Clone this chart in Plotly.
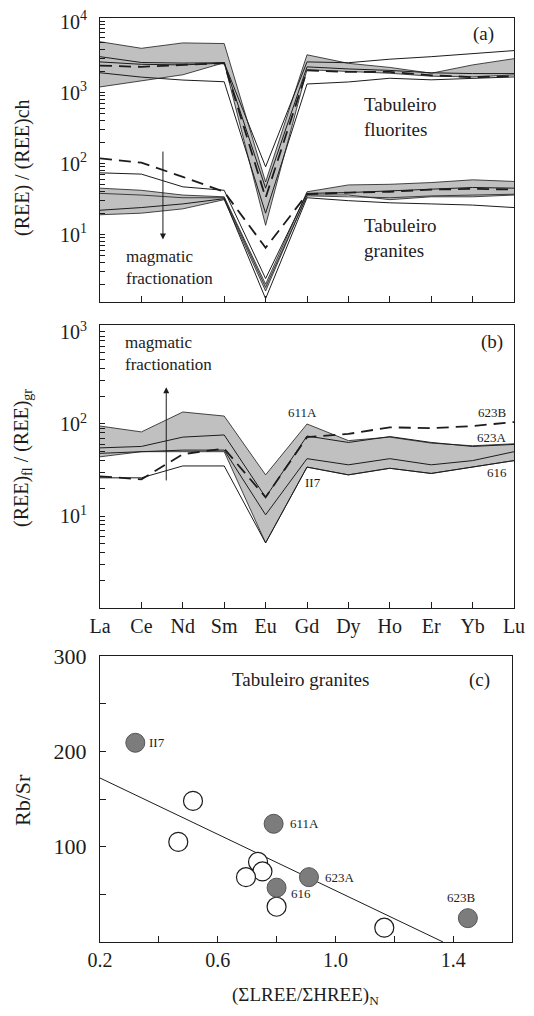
import math
import plotly.graph_objects as go

# ---------------- data ----------------
ELEMENTS = ["La", "Ce", "Nd", "Sm", "Eu", "Gd", "Dy", "Ho", "Er", "Yb", "Lu"]

# panel (a): chondrite-normalised REE, Tabuleiro fluorites
FL_BAND_HI = [5200, 4200, 5000, 4900, 55, 3400, 2580, 2260, 1870, 2450, 3000]
FL_BAND_LO = [1200, 1450, 1780, 2630, 13.5, 2100, 1960, 1870, 1700, 1660, 1770]
FL_SOLID_1 = [3200, 2650, 2600, 2630, 90, 2700, 2630, 2950, 3200, 3550, 3900]
FL_SOLID_2 = [1900, 1650, 1500, 1420, 20, 1320, 1410, 1590, 1510, 1600, 1660]
FL_SOLID_3 = [2700, 2500, 2450, 2600, 45, 2300, 2150, 2050, 1900, 1850, 1850]
FL_DASHED = [2400, 2300, 2450, 2600, 33, 2050, 1950, 1950, 1750, 1650, 1700]

# panel (a): Tabuleiro granites
GR_BAND_HI = [45, 42, 36, 34, 2.0, 40, 50, 51, 54, 59, 56]
GR_BAND_LO = [19, 20, 23, 31, 1.6, 36, 36, 31, 34, 34, 36]
GR_SOLID_1 = [74, 71, 47, 42, 2.4, 38, 39, 41, 44, 46, 45]
GR_SOLID_2 = [22, 24, 27, 32, 1.25, 33, 30, 28, 27, 26, 24]
GR_SOLID_3 = [38, 36, 33, 33, 1.8, 35, 34, 33, 35, 36, 37]
GR_DASHED = [118, 103, 65, 40, 6.5, 37, 39, 40, 43, 44, 43]

# panel (b): fluorite / granite ratios
B_BAND_HI = [95, 82, 135, 122, 28, 100, 66, 72, 62, 58, 61]
B_BAND_LO = [44, 50, 50, 50, 5.1, 34, 28, 33, 29, 34, 40]
B_623A = [55, 57, 72, 76, 16, 74, 63, 73, 63, 57, 60]
B_II7 = [48, 50, 52, 52, 10.3, 42, 36, 42, 36, 40, 50]
B_616 = [26, 26, 35, 35, 5.1, 34, 28, 33, 29, 34, 40]
B_623B = [27, 25, 47, 54, 16, 72, 78, 92, 90, 95, 105]

# panel (c): Rb/Sr vs (sum LREE / sum HREE)N
FILLED_X = [0.32, 0.79, 0.91, 0.80, 1.45]
FILLED_Y = [209, 124, 68, 57, 25]
FILLED_LABELS = ["II7", "611A", "623A", "616", "623B"]
OPEN_X = [0.516, 0.466, 0.737, 0.752, 0.696, 0.80, 1.166]
OPEN_Y = [148, 105, 84, 74, 68, 37, 15]
FIT_X = [0.2, 1.366]
FIT_Y = [172, 0]

C_TICKS_X = [0.2, 0.4, 0.6, 0.8, 1.0, 1.2, 1.4]
C_TICKTEXT_X = ["0.2", " ", "0.6", " ", "1.0", " ", "1.4"]
C_TICKS_Y = [0, 50, 100, 150, 200, 250, 300]
C_TICKTEXT_Y = [" ", " ", "100", " ", "200", " ", "300"]

# ---------------- layout helpers ----------------
W, H = 534, 1016
SERIF = "Liberation Serif"
INK = "#1c1c1c"
BAND_FILL = "rgba(150,150,150,0.6)"
idx = list(range(len(ELEMENTS)))


def px(x):
    return x / W


def py(y):
    return 1 - y / H


def log_ticks(lo_dec, hi_dec):
    vals, txt = [], []
    for d in range(lo_dec, hi_dec + 1):
        for k in range(1, 10):
            v = k * 10 ** d
            vals.append(v)
            txt.append(f"10<sup>{d}</sup>" if (k == 1 and d >= 1) else " ")
    return vals, txt


fig = go.Figure()


def line(y, xa, ya, dash=None, width=1.0):
    fig.add_trace(go.Scatter(
        x=idx, y=y, mode="lines", xaxis=xa, yaxis=ya, showlegend=False,
        hoverinfo="skip",
        line=dict(color=INK, width=width, dash=dash)))


def band(lo, hi, xa, ya):
    fig.add_trace(go.Scatter(
        x=idx, y=lo, mode="lines", xaxis=xa, yaxis=ya, showlegend=False,
        hoverinfo="skip", line=dict(color=INK, width=0.8)))
    fig.add_trace(go.Scatter(
        x=idx, y=hi, mode="lines", xaxis=xa, yaxis=ya, showlegend=False,
        hoverinfo="skip", line=dict(color=INK, width=0.8),
        fill="tonexty", fillcolor=BAND_FILL))


DASH = "12px,7px"

# panel (a)
band(FL_BAND_LO, FL_BAND_HI, "x", "y")
line(FL_SOLID_1, "x", "y")
line(FL_SOLID_2, "x", "y")
line(FL_SOLID_3, "x", "y")
line(FL_DASHED, "x", "y", dash=DASH, width=1.8)
band(GR_BAND_LO, GR_BAND_HI, "x", "y")
line(GR_SOLID_1, "x", "y")
line(GR_SOLID_2, "x", "y")
line(GR_SOLID_3, "x", "y", width=0.8)
line(GR_DASHED, "x", "y", dash=DASH, width=1.8)

# panel (b)
band(B_BAND_LO, B_BAND_HI, "x2", "y2")
line(B_623A, "x2", "y2")
line(B_II7, "x2", "y2")
line(B_616, "x2", "y2")
line(B_623B, "x2", "y2", dash=DASH, width=1.8)

# panel (c)
fig.add_trace(go.Scatter(x=FIT_X, y=FIT_Y, mode="lines", xaxis="x3", yaxis="y3",
                         showlegend=False, hoverinfo="skip",
                         line=dict(color=INK, width=1)))
fig.add_trace(go.Scatter(x=OPEN_X, y=OPEN_Y, mode="markers", xaxis="x3", yaxis="y3",
                         showlegend=False, hoverinfo="skip",
                         marker=dict(size=19, color="white",
                                     line=dict(color=INK, width=1.2))))
fig.add_trace(go.Scatter(x=FILLED_X, y=FILLED_Y, mode="markers", xaxis="x3", yaxis="y3",
                         showlegend=False, hoverinfo="skip",
                         marker=dict(size=19, color="#7c7c7c",
                                     line=dict(color="#555555", width=1))))

# ---------------- axes ----------------
tv_a, tt_a = log_ticks(0, 4)
tv_b, tt_b = log_ticks(0, 3)

common_ax = dict(showline=True, linecolor=INK, linewidth=1, mirror=True,
                 ticks="inside", tickcolor=INK, showgrid=False, zeroline=False,
                 automargin=False,
                 tickfont=dict(family=SERIF, size=20, color=INK))

fig.update_layout(
    width=W, height=H, margin=dict(l=0, r=0, t=0, b=0, autoexpand=False),
    paper_bgcolor="white", plot_bgcolor="white",
    font=dict(family=SERIF, color=INK),
    xaxis=dict(common_ax, domain=[px(100), px(514)], anchor="y", range=[0, 10],
               tickmode="array", tickvals=idx, showticklabels=False, ticklen=6),
    yaxis=dict(common_ax, domain=[py(302), py(18)], anchor="x", type="log",
               range=[0.05, 4.05], tickmode="array", tickvals=tv_a, ticktext=tt_a,
               ticklen=5, ticklabelstandoff=8),
    xaxis2=dict(common_ax, domain=[px(100), px(514)], anchor="y2", range=[0, 10],
                tickmode="array", tickvals=idx, ticktext=ELEMENTS, ticklen=6,
                tickfont=dict(family=SERIF, size=20, color=INK)),
    yaxis2=dict(common_ax, domain=[py(608), py(325)], anchor="x2", type="log",
                range=[0, 3.076], tickmode="array", tickvals=tv_b, ticktext=tt_b,
                ticklen=5, ticklabelstandoff=8),
    xaxis3=dict(common_ax, domain=[px(100), px(512)], anchor="y3", range=[0.2, 1.6],
                tickmode="array", tickvals=C_TICKS_X, ticktext=C_TICKTEXT_X, ticklen=6,
                tickfont=dict(family=SERIF, size=20, color=INK)),
    yaxis3=dict(common_ax, domain=[py(942), py(656)], anchor="x3", range=[0, 300],
                tickmode="array", tickvals=C_TICKS_Y, ticktext=C_TICKTEXT_Y, ticklen=6,
                ticklabelstandoff=8,
                tickfont=dict(family=SERIF, size=22, color=INK)),
)

anns = []


def txt(text, x, y, xref, yref, size, xanchor="center", yanchor="middle", **kw):
    anns.append(dict(text=text, x=x, y=y, xref=xref, yref=yref, showarrow=False,
                     xanchor=xanchor, yanchor=yanchor, align="left",
                     font=dict(family=SERIF, size=size, color=INK), **kw))


# panel (a) texts
txt("(a)", px(483), py(34), "paper", "paper", 19)
txt("Tabuleiro<br>fluorites", 6.33, 2.65, "x", "y", 19, xanchor="left")
txt("Tabuleiro<br>granites", 6.33, 0.945, "x", "y", 19, xanchor="left")
txt("magmatic<br>fractionation", 0.58, 0.536, "x", "y", 17, xanchor="left")
anns.append(dict(x=1.52, y=0.93, ax=1.52, ay=2.19, xref="x", yref="y", axref="x", ayref="y",
                 showarrow=True, arrowhead=2, arrowsize=1.2, arrowwidth=1, arrowcolor=INK, text=""))

# panel (b) texts
txt("(b)", px(492), py(342), "paper", "paper", 19)
txt("magmatic<br>fractionation", 0.56, 2.77, "x2", "y2", 17, xanchor="left")
anns.append(dict(x=1.6, y=2.40, ax=1.6, ay=1.37, xref="x2", yref="y2", axref="x2", ayref="y2",
                 showarrow=True, arrowhead=2, arrowsize=1.2, arrowwidth=1, arrowcolor=INK, text=""))
txt("611A", 4.88, 2.12, "x2", "y2", 13)
txt("623B", 9.47, 2.12, "x2", "y2", 13)
txt("623A", 9.47, 1.85, "x2", "y2", 13)
txt("II7", 5.14, 1.36, "x2", "y2", 13)
txt("616", 9.59, 1.47, "x2", "y2", 13)

# panel (c) texts
txt("Tabuleiro granites", 0.88, 275, "x3", "y3", 19)
txt("(c)", 1.49, 275, "x3", "y3", 19)
label_shift = {"II7": (12, 0, "left"), "611A": (14, 0, "left"), "623A": (14, 0, "left"),
               "616": (12, -6, "left"), "623B": (-6, 21, "center")}
for lx, ly, lab in zip(FILLED_X, FILLED_Y, FILLED_LABELS):
    dx, dy, anc = label_shift[lab]
    txt(lab, lx, ly, "x3", "y3", 13, xanchor=anc, xshift=dx, yshift=dy)

# axis titles
txt("(REE) / (REE)ch", px(22), py(168), "paper", "paper", 20, textangle=-90)
txt("(REE)<sub>fl</sub> / (REE)<sub>gr</sub>", px(22), py(458), "paper", "paper", 20, textangle=-90)
txt("Rb/Sr", px(22), py(800), "paper", "paper", 22, textangle=-90)
txt("(ΣLREE/ΣHREE)<sub>N</sub>", px(305), py(996), "paper", "paper", 19)

fig.update_layout(annotations=anns)
fig.write_html("out.html",
               config={"displayModeBar": False},
               post_script="document.body.style.margin='0px';"
                           "document.body.style.overflow='hidden';")
